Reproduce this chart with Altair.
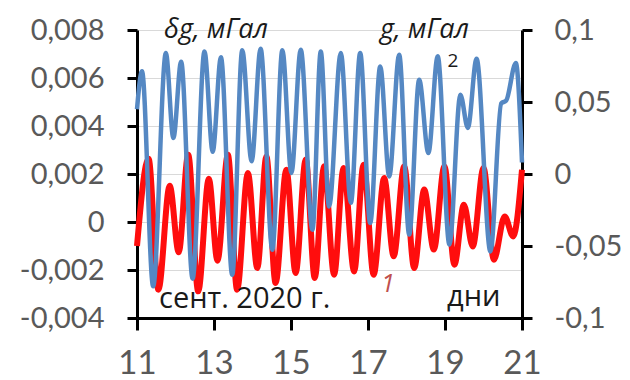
import altair as alt
import pandas as pd

# --- data ---
x_ticks = [11, 13, 15, 17, 19, 21]
left_ticks = [-0.004, -0.002, 0, 0.002, 0.004, 0.006, 0.008]
right_ticks = [-0.1, -0.05, 0, 0.05, 0.1]

# series 1 (red, δg, left axis) – extrema
red_days = [11.0, 11.30, 11.555, 11.85, 12.083, 12.33, 12.59, 12.865, 13.09, 13.36,
            13.60, 13.88, 14.125, 14.36, 14.60, 14.88, 15.12, 15.383, 15.617, 15.86,
            16.12, 16.365, 16.64, 16.885, 17.146, 17.42, 17.667, 17.94, 18.20, 18.46,
            18.71, 18.985, 19.245, 19.49, 19.72, 20.0, 20.27, 20.55, 20.77, 21.0]
red_vals = [-0.0010, 0.00264, -0.00282, 0.00151, -0.00126, 0.0028, -0.00289, 0.0018, -0.00161, 0.0028,
            -0.00282, 0.00204, -0.00192, 0.00273, -0.00254, 0.00218, -0.00213, 0.0026, -0.00233, 0.00232,
            -0.0022, 0.00225, -0.00206, 0.00239, -0.0022, 0.00183, -0.00143, 0.00232, -0.00192, 0.00135,
            -0.00115, 0.00232, -0.00178, 0.00072, -0.00102, 0.00225, -0.00157, 0.00023, -0.0006, 0.00218]

# series 2 (blue, g, right axis) – extrema
blue_days = [11.0, 11.13, 11.42, 11.75, 11.945, 12.146, 12.445, 12.753, 12.966, 13.18,
             13.474, 13.734, 13.977, 14.21, 14.516, 14.776, 15.01, 15.253, 15.557, 15.773,
             15.99, 16.294, 16.555, 16.797, 17.057, 17.318, 17.552, 17.81, 18.07, 18.33,
             18.568, 18.81, 19.115, 19.40, 19.594, 19.82, 20.18, 20.46, 20.59, 20.84, 21.0]
blue_vals = [0.045, 0.0713, -0.078, 0.084, 0.025, 0.078, -0.0727, 0.085, 0.0155, 0.081,
             -0.070, 0.086, 0.0088, 0.087, -0.0526, 0.086, 0.0007, 0.0863, -0.0387, 0.085,
             -0.0225, 0.084, -0.020, 0.084, -0.034, 0.0747, -0.0017, 0.0828, -0.042, 0.0655,
             0.0146, 0.0817, -0.049, 0.055, 0.032, 0.080, -0.0538, 0.049, 0.051, 0.077, 0.008]

title_left = "δg, мГал"
title_right = "g, мГал"
label_2 = "2"
label_1 = "1"
label_month = "сент. 2020 г."
label_days = "дни"

red_df = pd.DataFrame({"day": red_days, "v": red_vals})
blue_df = pd.DataFrame({"day": blue_days, "g": blue_vals})

num_expr = "(datum.value < 0 ? '-' : '') + replace(format(abs(datum.value), '~g'), '.', ',')"
LABEL_FONT = "Lato"
TEXT_FONT = "Open Sans"
GRAY = "#595959"

x_enc = alt.X(
    "day:Q",
    scale=alt.Scale(domain=[11, 21], nice=False, zero=False),
    axis=alt.Axis(values=x_ticks, format="d", title=None, grid=False,
                  domainColor="black", domainWidth=3, tickColor="black",
                  tickWidth=3, tickSize=12, labelFontSize=33, labelFont=LABEL_FONT,
                  labelColor=GRAY, labelPadding=17, labelFlush=False),
)

red = alt.Chart(red_df).mark_line(color="#ff0d0d", strokeWidth=6, interpolate="monotone").encode(
    x=x_enc,
    y=alt.Y("v:Q", scale=alt.Scale(domain=[-0.004, 0.008], nice=False, zero=False),
            axis=alt.Axis(orient="left", values=left_ticks, labelExpr=num_expr, title=None,
                          grid=True, gridColor="#d9d9d9", gridWidth=1,
                          domainColor="black", domainWidth=3, tickColor="black",
                          tickWidth=3, tickSize=10, labelFontSize=29, labelFont=LABEL_FONT,
                          labelColor=GRAY, labelPadding=23)),
)

blue = alt.Chart(blue_df).mark_line(color="#5588c3", strokeWidth=4.5, interpolate="monotone").encode(
    x=x_enc,
    y=alt.Y("g:Q", scale=alt.Scale(domain=[-0.1, 0.1], nice=False, zero=False),
            axis=alt.Axis(orient="right", values=right_ticks, labelExpr=num_expr, title=None,
                          grid=False, domainColor="black", domainWidth=3, tickColor="black",
                          tickWidth=3, tickSize=10, labelFontSize=29, labelFont=LABEL_FONT,
                          labelColor=GRAY, labelPadding=22)),
)


def note(text, x, y, size, align="left", italic=False, color="#1a1a1a"):
    kw = dict(align=align, baseline="middle", fontSize=size, font=TEXT_FONT, color=color)
    if italic:
        kw["fontStyle"] = "italic"
    return alt.Chart(pd.DataFrame({"t": [text]})).mark_text(**kw).encode(
        x=alt.value(x), y=alt.value(y), text="t:N")


notes = [
    note(title_left, 27, 0, 27, italic=True),
    note(title_right, 243, 0, 27, italic=True),
    note(label_2, 316, 31, 19, align="center"),
    note(label_1, 251, 254, 25, align="center", italic=True, color="#c0504d"),
    note(label_month, 22, 269, 29),
    note(label_days, 310, 267, 29),
]

chart = alt.layer(red, blue, *notes).resolve_scale(y="independent").properties(
    width=385, height=288,
    padding={"left": 129, "top": 22, "right": 100, "bottom": 62},
    autosize=alt.AutoSizeParams(type="none"),
).configure_view(stroke=None)

chart.save("out.html", embed_options={"renderer": "svg", "actions": False})
